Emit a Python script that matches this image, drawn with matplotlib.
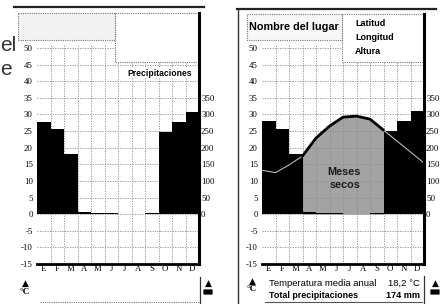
import matplotlib.pyplot as plt
from matplotlib.patches import Rectangle, FancyBboxPatch

W, H = 446, 304

months = ['E', 'F', 'M', 'A', 'M', 'J', 'J', 'A', 'S', 'O', 'N', 'D']
precip_left = [276, 256, 181, 5, 4, 3, 0, 0, 3, 247, 277, 307]
precip_right = [280, 256, 180, 5, 4, 3, 0, 0, 3, 250, 280, 310]
# temperature read at month boundaries (0 = start of E, 12 = end of D)
temp_edges = [13.2, 12.5, 14.8, 17.5, 22.9, 26.5, 29.2, 29.5, 28.6, 25.3, 22.0, 18.7, 15.4]
dry_start, dry_end = 3, 9
temp_ticks = list(range(-15, 55, 5))
precip_ticks = list(range(0, 400, 50))
mean_temp = '18,2 °C'
total_precip = '174 mm'

tick_font = 'Liberation Serif'
label_font = 'Liberation Sans'


def px_rect(left, top, width, height):
    return [left / W, 1 - (top + height) / H, width / W, height / H]


def make_chart(fig, left, precip, temp=None):
    ax = fig.add_axes(px_rect(left, 44.7, 162, 264 - 44.7))
    ax.set_xlim(0, 12)
    ax.set_ylim(-15, 51)
    ax.patch.set_visible(False)
    for s in ax.spines.values():
        s.set_visible(False)
    ax.set_yticks(temp_ticks)
    ax.set_yticklabels([str(t) for t in temp_ticks], fontsize=6.3, family=tick_font)
    ax.set_xticks([i + 0.5 for i in range(12)])
    ax.set_xticklabels(months, fontsize=6.3, family=tick_font)
    ax.tick_params(length=0, pad=3)
    ax.tick_params(axis='x', pad=1)
    # grid
    for y in temp_ticks:
        ax.axhline(y, color='#8c8c8c', lw=0.6, ls=(0, (1.5, 1.5)), zorder=2.5)
    for x in range(1, 12):
        ax.axvline(x, color='#8c8c8c', lw=0.6, ls=(0, (1.5, 1.5)), zorder=2.5)

    if temp is not None:
        xs = list(range(13))
        ax.fill_between(xs[dry_start:dry_end + 1], 0, temp[dry_start:dry_end + 1],
                        color='#a3a3a3', lw=0, zorder=1)

    ax2 = ax.twinx()
    ax2.set_ylim(-150, 510)
    ax2.patch.set_visible(False)
    for s in ax2.spines.values():
        s.set_visible(False)
    ax2.set_yticks(precip_ticks)
    ax2.set_yticklabels([str(p) for p in precip_ticks], fontsize=6.3, family=tick_font)
    ax2.tick_params(length=0, pad=1.5)
    ax2.bar([i + 0.5 for i in range(12)], precip, width=1.0, color='black', lw=0, zorder=2)

    if temp is not None:
        xs = list(range(13))
        ax2.plot(xs[:dry_start + 1], temp[:dry_start + 1], color='#d0d0d0', lw=0.7,
                 transform=ax.transData, zorder=3)
        ax2.plot(xs[dry_end:], temp[dry_end:], color='#d0d0d0', lw=0.7,
                 transform=ax.transData, zorder=3)
        ax2.plot(xs[dry_start:dry_end + 1], temp[dry_start:dry_end + 1], color='black', lw=2.0,
                 transform=ax.transData, zorder=4, solid_capstyle='round')
    return ax, ax2


fig = plt.figure(figsize=(W / 100, H / 100), dpi=100)
fig.patch.set_facecolor('white')

make_chart(fig, 37, precip_left)
make_chart(fig, 262, precip_right, temp_edges)

ov = fig.add_axes([0, 0, 1, 1])
ov.set_xlim(0, W)
ov.set_ylim(H, 0)
ov.axis('off')
ov.patch.set_visible(False)

# text fragments at the far left
ov.text(0.5, 51, 'el', ha='left', va='baseline', fontsize=15, family='Liberation Sans', color='#333333')
ov.text(0.5, 75, 'e', ha='left', va='baseline', fontsize=15, family='Liberation Sans', color='#333333')

dot = dict(ls=(0, (1, 1)), lw=0.8, ec='#777777')

# ---- left chart frame
ov.plot([14, 204], [7, 7], color='#222222', lw=1.6)
ov.add_patch(Rectangle((18, 13), 97, 27, fc='#f2f2f2', **dot))
ov.add_patch(Rectangle((115, 13), 84, 49, fc='white', **dot))
ov.plot([199, 199], [13, 264], color='black', lw=2.2)
ov.plot([37, 199], [264, 264], color='black', lw=2.0)
ov.text(160, 73, 'Precipitaciones', ha='center', va='center', fontsize=6.2, weight='bold',
        family=label_font, bbox=dict(fc='white', ec='none', pad=0.6))
ov.plot([200, 200], [277, 304], color='#333333', lw=0.9)
ov.plot([40, 200], [302, 302], color='#777777', lw=0.8, ls=(0, (1, 1)))
ov.text(25, 283, '▲', ha='center', va='center', fontsize=6.5)
ov.text(25, 292, '°C', ha='center', va='center', fontsize=6.5, family=tick_font, weight='bold')
ov.text(208, 283, '▲', ha='center', va='center', fontsize=6.5)
ov.add_patch(FancyBboxPatch((204, 290), 8, 4, boxstyle='round,pad=0.6', fc='black', ec='none'))

# ---- right chart frame
ov.plot([237, 436], [9, 9], color='#222222', lw=1.6)
ov.plot([238, 238], [9, 304], color='#333333', lw=1.0)
ov.add_patch(Rectangle((247, 14), 95, 26, fc='#f7f7f7', **dot))
ov.add_patch(Rectangle((342, 14), 82, 48, fc='white', **dot))
ov.plot([424, 424], [14, 264], color='black', lw=2.2)
ov.plot([262, 424], [264, 264], color='black', lw=2.0)
ov.text(249, 27, 'Nombre del lugar', ha='left', va='center', fontsize=7.8, weight='bold', family=label_font)
for y, t in zip([24, 38, 52], ['Latitud', 'Longitud', 'Altura']):
    ov.text(355, y, t, ha='left', va='center', fontsize=6.5, weight='bold', family=label_font)
ov.text(344, 172, 'Meses', ha='center', va='center', fontsize=7.8, weight='bold', family=label_font,
        color='#1a1a1a')
ov.text(345, 185, 'secos', ha='center', va='center', fontsize=7.8, weight='bold', family=label_font,
        color='#1a1a1a')
ov.text(269, 283, 'Temperatura media anual', ha='left', va='center', fontsize=6.8, family=label_font)
ov.text(420, 283, mean_temp, ha='right', va='center', fontsize=6.8, family=label_font)
ov.text(269, 296, 'Total precipitaciones', ha='left', va='center', fontsize=6.4, weight='bold',
        family=label_font)
ov.text(420, 296, total_precip, ha='right', va='center', fontsize=6.6, weight='bold', family=label_font)
ov.plot([265, 422], [302, 302], color='#555555', lw=0.8)
ov.plot([424, 424], [276, 304], color='#333333', lw=0.9)
ov.text(252, 281, '▲', ha='center', va='center', fontsize=6.5)
ov.text(252, 289, '°C', ha='center', va='center', fontsize=6.5, family=tick_font, weight='bold')
ov.text(435, 283, '▲', ha='center', va='center', fontsize=6.5)
ov.add_patch(FancyBboxPatch((431, 290), 8, 4, boxstyle='round,pad=0.6', fc='black', ec='none'))

fig.savefig('out.png', dpi=100, facecolor='white')
